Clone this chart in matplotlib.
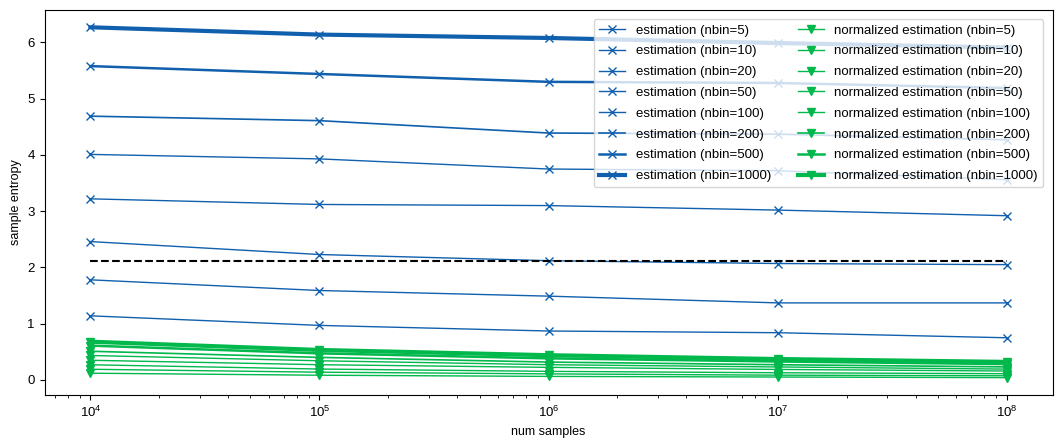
import numpy as np
import matplotlib
matplotlib.use("Agg")
import matplotlib.pyplot as plt


# num samples
num_samples = [1e4, 1e5, 1e6, 1e7, 1e8]
nbins = [5, 10, 20, 50, 100, 200, 500, 1000]

# estimated entropy per nbin
est_5 = [1.14, 0.97, 0.87, 0.84, 0.75]
est_10 = [1.78, 1.59, 1.49, 1.37, 1.37]
est_20 = [2.46, 2.23, 2.12, 2.07, 2.05]
est_50 = [3.22, 3.12, 3.10, 3.02, 2.92]
est_100 = [4.01, 3.93, 3.75, 3.72, 3.56]
est_200 = [4.69, 4.61, 4.39, 4.37, 4.27]
est_500 = [5.58, 5.44, 5.30, 5.28, 5.19]
est_1000 = [6.27, 6.14, 6.08, 5.99, 5.91]

# normalized estimation per nbin
norm_5 = [0.12, 0.084, 0.063, 0.052, 0.041]
norm_10 = [0.19, 0.138, 0.108, 0.085, 0.074]
norm_20 = [0.27, 0.194, 0.153, 0.128, 0.111]
norm_50 = [0.35, 0.271, 0.224, 0.187, 0.159]
norm_100 = [0.435, 0.341, 0.271, 0.231, 0.193]
norm_200 = [0.51, 0.401, 0.318, 0.271, 0.232]
norm_500 = [0.61, 0.473, 0.384, 0.328, 0.282]
norm_1000 = [0.68, 0.533, 0.440, 0.372, 0.321]

# true entropy (dashed reference)
true_entropy = 2.12

estimations = [est_5, est_10, est_20, est_50, est_100, est_200, est_500, est_1000]
normalized = [norm_5, norm_10, norm_20, norm_50, norm_100, norm_200, norm_500, norm_1000]

blue = "#1060AE"
green = "#00B84C"
widths = [1, 1, 1, 1, 1, 1.2, 1.8, 3]

plt.rcParams['font.family'] = ['Liberation Sans', 'DejaVu Sans']

fig, ax = plt.subplots(figsize=(10.61, 4.44), dpi=100)

for nb, vals, lw in zip(nbins, estimations, widths):
    ax.plot(num_samples, vals, color=blue, marker="x", lw=lw,
            label="estimation (nbin=%d)" % nb)
for nb, vals, lw in zip(nbins, normalized, widths):
    ax.plot(num_samples, vals, color=green, marker="v", lw=lw,
            label="normalized estimation (nbin=%d)" % nb)

ax.plot([num_samples[0], num_samples[-1]], [true_entropy, true_entropy], "k--")

ax.set_xscale("log")
ax.set_xlabel("num samples", fontsize=9)
ax.set_ylabel("sample entropy", fontsize=9)
ax.tick_params(labelsize=9.5)
ax.legend(ncol=2, loc="upper right", fontsize=9.5, labelspacing=0.65,
          borderaxespad=0.7)

fig.subplots_adjust(left=0.042, right=0.992, top=0.978, bottom=0.11)
plt.savefig("out.png")
